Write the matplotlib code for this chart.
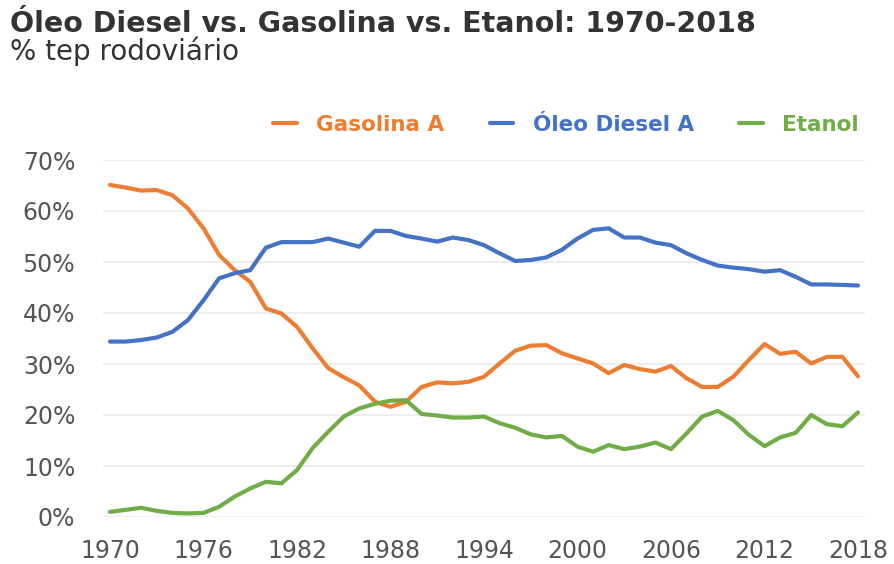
import numpy as np
import matplotlib
matplotlib.use('Agg')
import matplotlib.pyplot as plt
from matplotlib.ticker import FuncFormatter

# Participação no consumo rodoviário (% tep), 1970-2018
years = list(range(1970, 2019))

gasolina = [65.1, 64.6, 64.0, 64.1, 63.1, 60.5, 56.6, 51.4, 48.4, 46.1,
            40.9, 39.9, 37.3, 33.1, 29.2, 27.4, 25.8, 22.6, 21.6, 22.6,
            25.5, 26.4, 26.2, 26.5, 27.5, 30.1, 32.6, 33.6, 33.7, 32.1,
            31.1, 30.1, 28.2, 29.8, 29.0, 28.5, 29.6, 27.2, 25.5, 25.5,
            27.5, 30.8, 33.9, 32.0, 32.4, 30.1, 31.4, 31.4, 27.6]

diesel = [34.4, 34.4, 34.7, 35.2, 36.3, 38.6, 42.5, 46.8, 47.8, 48.4,
          52.8, 53.9, 53.9, 53.9, 54.6, 53.8, 53.0, 56.1, 56.1, 55.1,
          54.6, 54.0, 54.8, 54.3, 53.3, 51.7, 50.2, 50.4, 50.9, 52.4,
          54.6, 56.3, 56.6, 54.8, 54.8, 53.8, 53.3, 51.7, 50.4, 49.3,
          48.9, 48.6, 48.1, 48.4, 47.1, 45.6, 45.6, 45.5, 45.4]

etanol = [1.0, 1.4, 1.8, 1.2, 0.8, 0.7, 0.8, 2.0, 4.0, 5.6,
          6.9, 6.6, 9.2, 13.5, 16.7, 19.7, 21.3, 22.2, 22.8, 22.9,
          20.2, 19.9, 19.5, 19.5, 19.7, 18.4, 17.5, 16.2, 15.6, 15.9,
          13.8, 12.8, 14.1, 13.3, 13.8, 14.6, 13.3, 16.4, 19.7, 20.8,
          19.0, 16.1, 13.9, 15.6, 16.5, 20.0, 18.2, 17.8, 20.5]

series = [('Gasolina A', gasolina, '#ED7D31'),
          ('Óleo Diesel A', diesel, '#4472C4'),
          ('Etanol', etanol, '#70AD47')]

fig = plt.figure(figsize=(8.94, 5.64), dpi=100)
ax = fig.add_axes([103 / 894, 47 / 564, 762 / 894, 357 / 564])

for name, vals, color in series:
    ax.plot(years, np.array(vals) / 100, color=color, lw=3.0, label=name,
            solid_joinstyle='round', solid_capstyle='round', clip_on=False)

ax.set_xlim(1969.55, 2018.45)
ax.set_ylim(0, 0.7)
ax.set_xticks(range(1970, 2019, 6))
ax.set_yticks(np.arange(0, 0.71, 0.1))
ax.yaxis.set_major_formatter(FuncFormatter(lambda v, p: f'{v * 100:.0f}%'))
ax.grid(axis='y', color='#ebebeb', lw=1.2)
ax.set_axisbelow(True)
for s in ax.spines.values():
    s.set_visible(False)
ax.tick_params(length=0, labelsize=17, colors='#555555')
ax.tick_params(axis='x', pad=16)
ax.tick_params(axis='y', pad=20)

fig.text(10 / 894, 1 - 32 / 564, 'Óleo Diesel vs. Gasolina vs. Etanol: 1970-2018',
         fontsize=20.5, fontweight='bold', color='#333333', va='baseline')
fig.text(10 / 894, 1 - 60 / 564, '% tep rodoviário',
         fontsize=20, color='#333333', va='baseline')

leg = fig.legend(loc='center right', bbox_to_anchor=(878 / 894, 1 - 125 / 564),
                 ncol=3, frameon=False, handlelength=1.1, handletextpad=0.9,
                 columnspacing=2.1, prop={'size': 15.5, 'weight': 'bold'},
                 labelcolor='linecolor')

fig.savefig('out.png', dpi=100)
